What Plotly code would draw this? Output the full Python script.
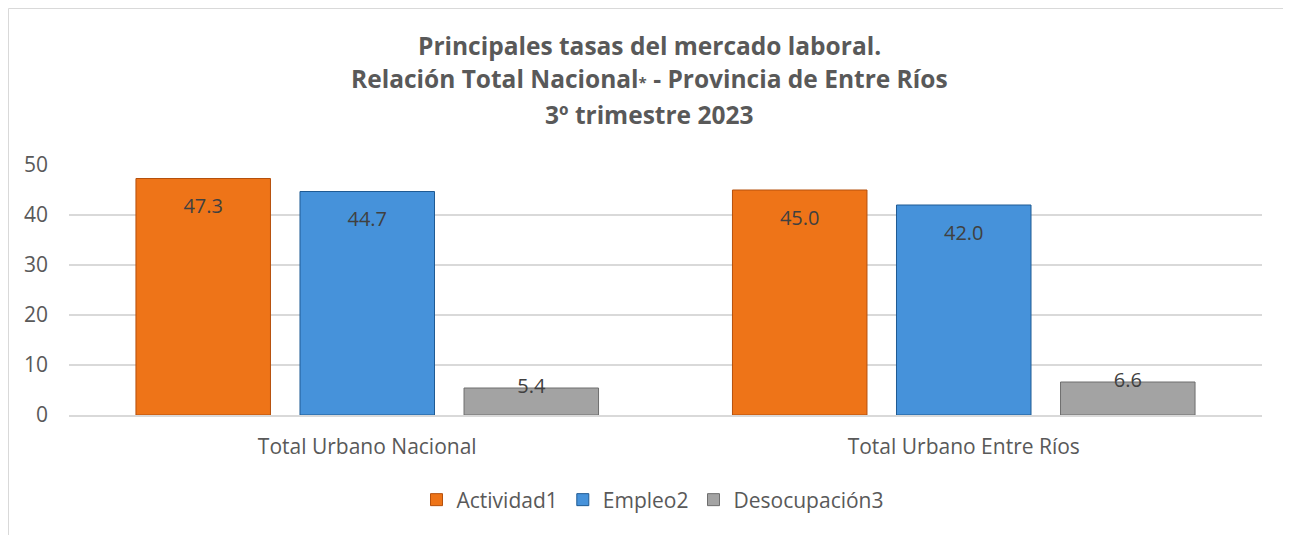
import plotly.graph_objects as go

categories = ["Total Urbano Nacional", "Total Urbano Entre Ríos"]
series_names = ["Actividad1", "Empleo2", "Desocupación3"]
actividad = [47.3, 45.0]
empleo = [44.7, 42.0]
desocupacion = [5.4, 6.6]
y_ticks = [0, 10, 20, 30, 40, 50]

# page is rendered with an 8px body margin
OFF = 8
W, H = 1291, 535
ML = 69 - OFF
MT = 165 - OFF
MR = W - (1262 - OFF)
MB = H - (415 - OFF)

colors = ["#EE7418", "#4692DA", "#A3A3A3"]
lines = ["#B5500C", "#1F5A93", "#6E6E6E"]
values = [actividad, empleo, desocupacion]
label_pos = ["bottom center", "bottom center", "middle center"]
label_gap = [30, 30, 1]

BARGAP = 0.175

fig = go.Figure()
for name, vals, c, lc in zip(series_names, values, colors, lines):
    fig.add_trace(go.Bar(
        name=name, x=categories, y=vals,
        marker=dict(color=c, line=dict(color=lc, width=1)),
        hoverinfo="x+y",
    ))
for name, vals, pos, gap in zip(series_names, values, label_pos, label_gap):
    fig.add_trace(go.Scatter(
        x=categories, y=vals, mode="markers+text",
        text=[f"{v:.1f}" for v in vals], textposition=pos,
        textfont=dict(size=20, color="#404040"),
        marker=dict(size=gap, color="rgba(0,0,0,0)"),
        showlegend=False, hoverinfo="skip", cliponaxis=False,
    ))

pw = W - ML - MR
ph = H - MT - MB


def px(x):
    return (x - OFF - ML) / pw


def py(y):
    return (H - MB - (y - OFF)) / ph


fig.add_shape(type="rect", xref="paper", yref="paper",
              x0=px(8.5), x1=px(1289), y0=py(560), y1=py(8.5),
              line=dict(color="#D9D9D9", width=1), layer="below")

title_lines = [
    "<b>Principales tasas del mercado laboral.</b>",
    "<b>Relación Total Nacional<span style='font-size:15px'>*</span> - Provincia de Entre Ríos</b>",
    "<b>3º trimestre 2023</b>",
]
for t, yc in zip(title_lines, [45, 79, 114]):
    fig.add_annotation(text=t, xref="paper", yref="paper", x=px(649), y=py(yc),
                       xanchor="center", yanchor="middle", showarrow=False,
                       font=dict(size=24.5, color="#595959", family="Open Sans"))

fig.update_layout(
    width=W, height=H,
    margin=dict(l=ML, r=MR, t=MT, b=MB, autoexpand=False),
    paper_bgcolor="white", plot_bgcolor="white",
    font=dict(family="Open Sans", color="#595959"),
    barmode="group", bargap=BARGAP, bargroupgap=0.18,
    scattermode="group", scattergap=BARGAP,
    xaxis=dict(tickfont=dict(size=21, color="#595959"), showline=True,
               linecolor="#D9D9D9", linewidth=1.5, ticks="", automargin=False,
               ticklabelstandoff=12),
    yaxis=dict(range=[0, 50], tickvals=y_ticks, showgrid=True,
               gridcolor="#D9D9D9", gridwidth=1.5, zeroline=False, automargin=False,
               tickfont=dict(size=21, color="#595959"), ticklabelstandoff=20),
    legend=dict(orientation="h", x=px(653), xanchor="center", y=py(500), yanchor="middle",
                font=dict(size=21, color="#595959"), traceorder="normal",
                itemwidth=30),
    showlegend=True,
)

fig.write_html("out.html")
